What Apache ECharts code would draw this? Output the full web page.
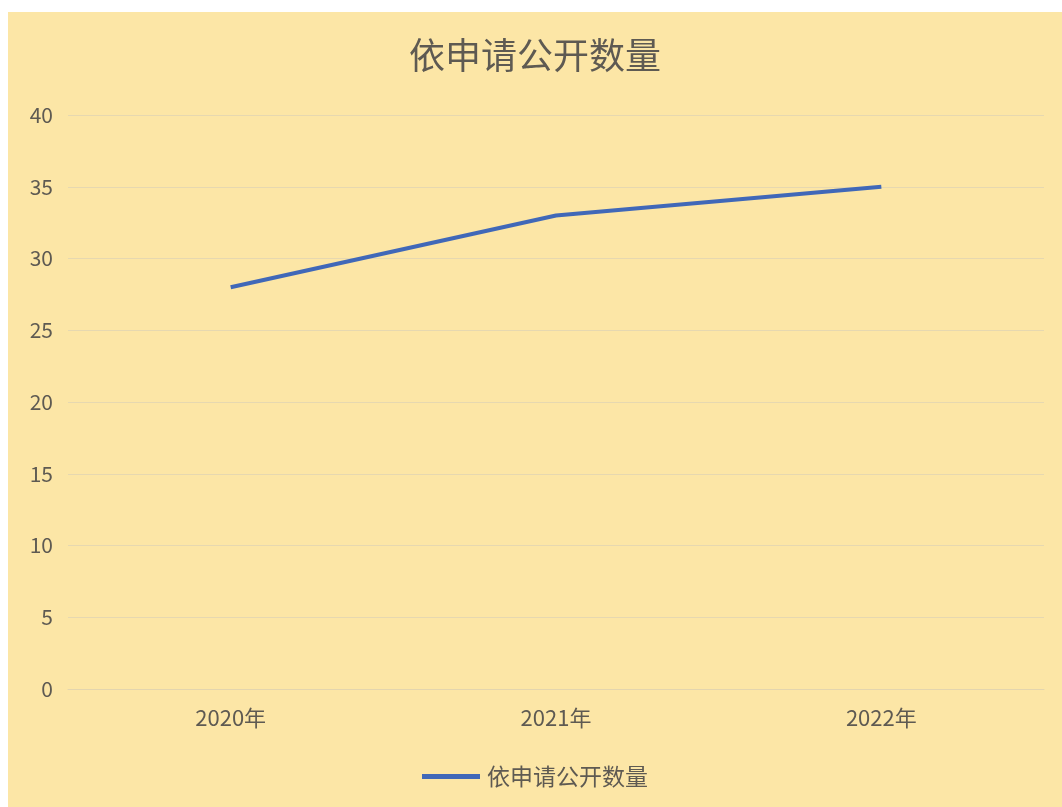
<!DOCTYPE html>
<html>
<head>
<meta charset="utf-8">
<script src="https://cdn.jsdelivr.net/npm/echarts@6/dist/echarts.min.js"></script>
<style>
html,body{margin:0;padding:0;background:#fff;width:1062px;height:807px;overflow:hidden;}
#chart{position:absolute;left:8px;top:12px;width:1054px;height:795px;}
</style>
</head>
<body>
<div id="chart"></div>
<script>
const categories = ['2020年', '2021年', '2022年'];
const seriesName = '依申请公开数量';
const values = [28, 33, 35];
const titleText = '依申请公开数量';

const chart = echarts.init(document.getElementById('chart'));
const font = '"Noto Sans CJK SC", "Microsoft YaHei", sans-serif';
chart.setOption({
  backgroundColor: '#FCE6A6',
  animation: false,
  title: {
    text: titleText,
    left: 'center',
    top: 20,
    textStyle: {fontSize: 36, fontWeight: 'normal', color: '#5E5A52', fontFamily: font}
  },
  legend: {
    data: [seriesName],
    top: 748,
    left: 'center',
    icon: 'rect',
    itemWidth: 58,
    itemHeight: 5,
    itemGap: 6,
    textStyle: {fontSize: 23, color: '#5E5A52', fontFamily: font, padding: [0, 0, 0, 2]}
  },
  grid: {left: 60, right: 18, top: 103, bottom: 118, containLabel: false, outerBoundsMode: 'none'},
  xAxis: {
    type: 'category',
    data: categories,
    boundaryGap: true,
    axisLine: {show: true, lineStyle: {color: '#E3D5AE', width: 1}},
    axisTick: {show: false},
    axisLabel: {fontSize: 22, color: '#5E5A52', margin: 18, fontFamily: font}
  },
  yAxis: {
    type: 'value',
    min: 0,
    max: 40,
    interval: 5,
    axisLine: {show: false},
    axisTick: {show: false},
    axisLabel: {fontSize: 21, color: '#5E5A52', margin: 15, fontFamily: font},
    splitLine: {lineStyle: {color: '#E6D8B0', width: 1}}
  },
  series: [{
    name: seriesName,
    type: 'line',
    data: values,
    symbol: 'none',
    lineStyle: {color: '#4068B8', width: 4},
    itemStyle: {color: '#4068B8'}
  }]
});
</script>
</body>
</html>
